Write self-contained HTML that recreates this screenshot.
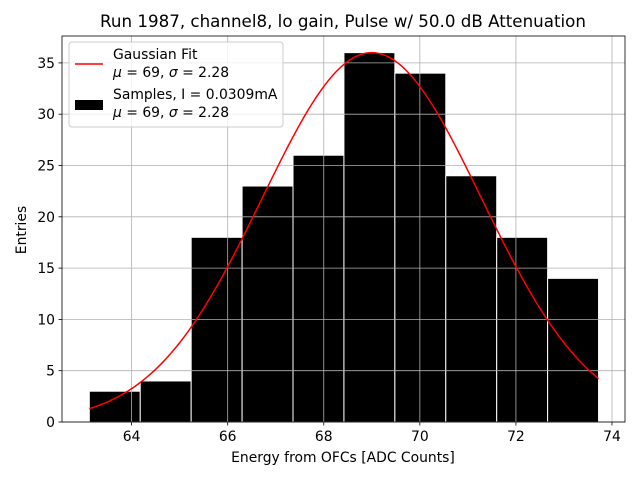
<!DOCTYPE html>
<html><head><meta charset="utf-8"><style>body{margin:0;background:#fff}svg{font-family:"DejaVu Sans","Liberation Sans",sans-serif}</style></head>
<body>
<svg id="c" width="640" height="480"></svg>
<script>
const binEdges=[63.12,64.18,65.24,66.30,67.36,68.42,69.48,70.54,71.60,72.66,73.72];
const counts=[3,4,18,23,26,36,34,24,18,14];
const xTicks=[64,66,68,70,72,74];
const yTicks=[0,5,10,15,20,25,30,35];
const fitMu=69, fitSigma=2.28, fitAmp=36;
const L=62,R=625,T=36,B=422;
const X=v=>131.6+(v-64)*48.04;
const Y=v=>B-v*10.26;
const s=document.getElementById('c');
const NS='http://www.w3.org/2000/svg';
function mk(t,a,p){const e=document.createElementNS(NS,t);for(const k in a)e.setAttribute(k,a[k]);(p||s).appendChild(e);return e;}
mk('rect',{x:0,y:0,width:640,height:480,fill:'#fff'});
for(let i=0;i<counts.length;i++){
 const r=mk('rect',{x:X(binEdges[i]),y:Y(counts[i]),width:X(binEdges[i+1])-X(binEdges[i]),height:B-Y(counts[i]),fill:'#000',stroke:'#fff','stroke-width':1});
 
 
}
xTicks.forEach(v=>{
 const g=mk('line',{x1:X(v),x2:X(v),y1:T,y2:B,stroke:'#b0b0b0','stroke-width':0.8});
 
 
 mk('line',{x1:X(v),x2:X(v),y1:B,y2:B+3.5,stroke:'#000','stroke-width':0.8});
 const t=mk('text',{x:X(v),y:B+19,'font-size':13.9,'text-anchor':'middle'});t.textContent=v;
 
 
});
yTicks.forEach(v=>{
 const g=mk('line',{x1:L,x2:R,y1:Y(v),y2:Y(v),stroke:'#b0b0b0','stroke-width':0.8});
 
 
 mk('line',{x1:L-3.5,x2:L,y1:Y(v),y2:Y(v),stroke:'#000','stroke-width':0.8});
 const t=mk('text',{x:L-7,y:Y(v)+5,'font-size':13.9,'text-anchor':'end'});t.textContent=v;
 
 
});
let d='';
for(let i=0;i<=200;i++){const v=binEdges[0]+(binEdges[10]-binEdges[0])*i/200;const y=fitAmp*Math.exp(-((v-fitMu)**2)/(2*fitSigma**2));d+=(i?'L':'M')+X(v).toFixed(2)+','+Y(y).toFixed(2);}
const fl=mk('path',{d:d,fill:'none',stroke:'#ff0000','stroke-width':1.5});


mk('rect',{x:L,y:T,width:R-L,height:B-T,fill:'none',stroke:'#000','stroke-width':0.8});
</script>
<svg width="640" height="480" style="position:absolute;left:0;top:0">
<text x="343" y="27" font-size="16.7" text-anchor="middle">Run 1987, channel8, lo gain, Pulse w/ 50.0 dB Attenuation</text>
<text x="343" y="462" font-size="13.9" text-anchor="middle">Energy from OFCs [ADC Counts]</text>
<text x="26" y="230" font-size="13.9" text-anchor="middle" transform="rotate(-90 26 230)">Entries</text>
<g>
<rect x="69" y="42" width="214" height="85" rx="3" fill="#fff" fill-opacity="0.8" stroke="#ccc"/>
<line x1="75" x2="103" y1="64" y2="64" stroke="#ff0000" stroke-width="1.5"/>
<text x="113" y="59" font-size="13.9">Gaussian Fit</text>
<text x="113" y="77" font-size="13.9" font-style="italic">μ <tspan font-style="normal">= 69,</tspan> σ <tspan font-style="normal">= 2.28</tspan></text>
<rect x="75" y="100" width="28" height="10" fill="#000"/>
<text x="113" y="99" font-size="13.9">Samples, I = 0.0309mA</text>
<text x="113" y="117" font-size="13.9" font-style="italic">μ <tspan font-style="normal">= 69,</tspan> σ <tspan font-style="normal">= 2.28</tspan></text>
</g>
</svg>
</body></html>
